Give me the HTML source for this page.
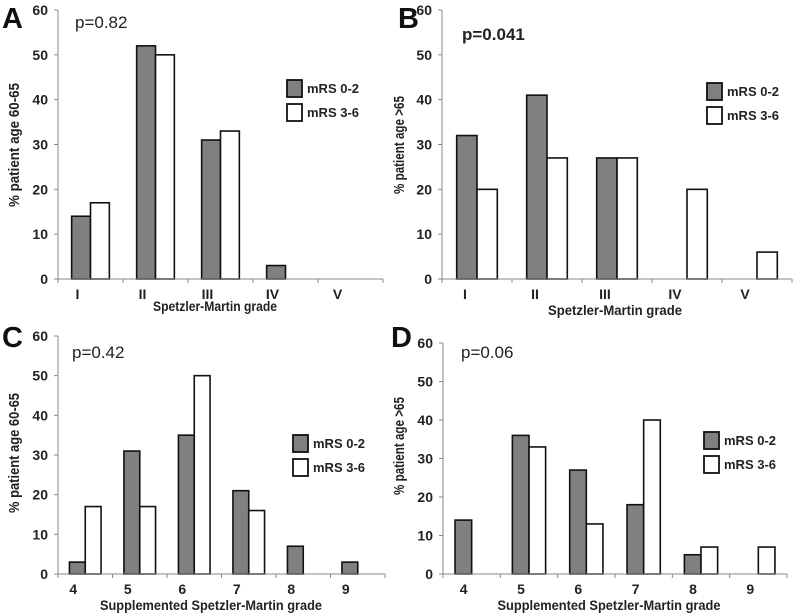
<!DOCTYPE html>
<html><head><meta charset="utf-8"><style>
html,body{margin:0;padding:0;background:#fff;}
svg{display:block;font-family:"Liberation Sans",sans-serif;}
</style></head><body>
<svg id="fig" width="800" height="614" viewBox="0 0 800 614"></svg>
<script>
const catsA = ["I","II","III","IV","V"];
const grayA = [14,52,31,3,0];
const whiteA = [17,50,33,0,0];
const catsB = ["I","II","III","IV","V"];
const grayB = [32,41,27,0,0];
const whiteB = [20,27,27,20,6];
const catsC = ["4","5","6","7","8","9"];
const grayC = [3,31,35,21,7,3];
const whiteC = [17,17,50,16,0,0];
const catsD = ["4","5","6","7","8","9"];
const grayD = [14,36,27,18,5,0];
const whiteD = [0,33,13,40,7,7];
const yTicks = [0,10,20,30,40,50,60];

const NS="http://www.w3.org/2000/svg";
const svg=document.getElementById('fig');
function mk(tag,attrs,parent,text){const e=document.createElementNS(NS,tag);for(const k in attrs)e.setAttribute(k,attrs[k]);if(text!==undefined)e.textContent=text;(parent||svg).appendChild(e);return e;}

function panel(p){
  const g=mk('g',{});
  
  
  const band=(p.x1-p.x0)/p.cats.length;
  const xs=i=>p.x0+band*(i+0.5);
  const ys=v=>p.y0-(v/60)*(p.y0-p.yTop);
  const bw=band*0.29;
  p.cats.forEach((c,i)=>{
    if(p.gray[i]>0){
      const r=mk('rect',{x:xs(i)-bw,y:ys(p.gray[i]),width:bw,height:p.y0-ys(p.gray[i]),fill:'#808080',stroke:'#111','stroke-width':1.6},g);
      
      
    }
    if(p.white[i]>0){
      const r=mk('rect',{x:xs(i),y:ys(p.white[i]),width:bw,height:p.y0-ys(p.white[i]),fill:'#fff',stroke:'#111','stroke-width':1.6},g);
      
      
    }
  });
  const ya=mk('line',{x1:p.x0,y1:p.yTop,x2:p.x0,y2:p.y0,stroke:'#888','stroke-width':1},g);
  
  
  const xa=mk('line',{x1:p.x0,y1:p.y0,x2:p.x1,y2:p.y0,stroke:'#888','stroke-width':1},g);
  
  
  yTicks.forEach(t=>{
    mk('line',{x1:p.x0-4,y1:ys(t),x2:p.x0,y2:ys(t),stroke:'#888'},g);
    const tl=mk('text',{x:p.x0-10,y:ys(t)+5,'text-anchor':'end','font-size':14,'font-weight':'bold',fill:'#222'},g,t);
    
    
  });
  for(let i=0;i<=p.cats.length;i++) mk('line',{x1:p.x0+band*i,y1:p.y0,x2:p.x0+band*i,y2:p.y0+4,stroke:'#888'},g);
  p.cats.forEach((c,i)=>{
    const tl=mk('text',{x:xs(i)-p.lblOff,y:p.y0+20,'text-anchor':'middle','font-size':14,'font-weight':'bold',fill:'#222'},g,c);
    
    
  });
  const xt=mk('text',{x:p.xtX,y:p.xtY,'text-anchor':'middle','font-size':14,'font-weight':'bold',fill:'#222',textLength:p.xtLen,lengthAdjust:'spacingAndGlyphs'},g,p.xTitle);
  
  
  const yt=mk('text',{x:0,y:0,transform:`translate(${p.ytX},${p.ytY}) rotate(-90)`,'text-anchor':'middle','font-size':15,'font-weight':'bold',fill:'#222',textLength:p.ytLen,lengthAdjust:'spacingAndGlyphs'},g,p.yTitle);
  
  
  const pl=mk('text',{x:p.pX,y:p.pY,'font-size':17,'font-weight':p.pBold?'bold':'normal',fill:'#222'},g,p.pText);
  
  
  const lt=mk('text',{x:p.lX,y:p.lY,'font-size':29,'font-weight':'bold',fill:'#111'},g,p.id);
  
  
  const l1=mk('rect',{x:p.legX,y:p.legY,width:15,height:17,fill:'#808080',stroke:'#111','stroke-width':1.8},g);
  
  
  const l2=mk('rect',{x:p.legX,y:p.legY+24,width:15,height:17,fill:'#fff',stroke:'#111','stroke-width':1.8},g);
  
  
  const t1=mk('text',{x:p.legX+20,y:p.legY+13,'font-size':13,'font-weight':'bold',fill:'#222'},g,'mRS 0-2');
  
  
  const t2=mk('text',{x:p.legX+20,y:p.legY+37,'font-size':13,'font-weight':'bold',fill:'#222'},g,'mRS 3-6');
  
  
}

panel({id:'A',cats:catsA,gray:grayA,white:whiteA,x0:58,x1:383,yTop:10,y0:279,lblOff:13,
  xTitle:'Spetzler-Martin grade',xtX:215,xtY:311,xtLen:124,yTitle:'% patient age 60-65',ytX:19,ytY:145,ytLen:124,
  pText:'p=0.82',pX:75,pY:28,pBold:false,lX:2,lY:28,legX:287,legY:80});
panel({id:'B',cats:catsB,gray:grayB,white:whiteB,x0:442,x1:792,yTop:10,y0:279,lblOff:12,
  xTitle:'Spetzler-Martin grade',xtX:615,xtY:315,xtLen:134,yTitle:'% patient age >65',ytX:404,ytY:145,ytLen:98,
  pText:'p=0.041',pX:462,pY:40,pBold:true,lX:398,lY:28,legX:707,legY:83});
panel({id:'C',cats:catsC,gray:grayC,white:whiteC,x0:58,x1:385,yTop:336,y0:574,lblOff:12,
  xTitle:'Supplemented Spetzler-Martin grade',xtX:211,xtY:610,xtLen:222,yTitle:'% patient age 60-65',ytX:19,ytY:453,ytLen:120,
  pText:'p=0.42',pX:72,pY:358,pBold:false,lX:2,lY:347,legX:293,legY:435});
panel({id:'D',cats:catsD,gray:grayD,white:whiteD,x0:443,x1:787,yTop:343,y0:574,lblOff:8,
  xTitle:'Supplemented Spetzler-Martin grade',xtX:609,xtY:610,xtLen:223,yTitle:'% patient age >65',ytX:404,ytY:446,ytLen:98,
  pText:'p=0.06',pX:461,pY:358,pBold:false,lX:391,lY:347,legX:704,legY:432});
</script>
</body></html>
